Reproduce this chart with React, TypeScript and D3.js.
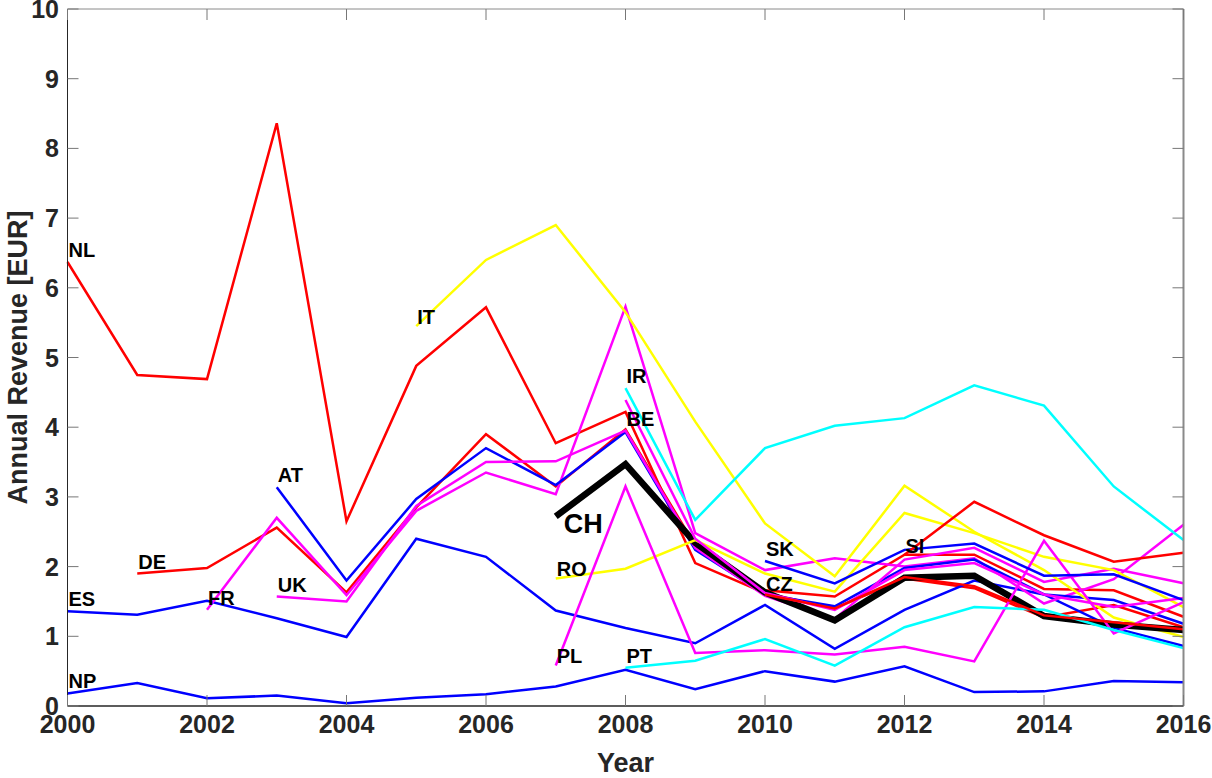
import React from "react";
import * as d3 from "d3";

// ---- data ----
const xTicks = [2000, 2002, 2004, 2006, 2008, 2010, 2012, 2014, 2016];
const yTicks = [0, 1, 2, 3, 4, 5, 6, 7, 8, 9, 10];

const countries = ["NL", "ES", "NP", "DE", "FR", "AT", "UK", "IT", "CH", "RO", "PL", "IR", "BE", "PT", "SK", "CZ", "SI"];
const startYears = [2000, 2000, 2000, 2001, 2002, 2003, 2003, 2005, 2007, 2007, 2007, 2008, 2008, 2008, 2010, 2010, 2012];
const colors = ["#ff0000", "#0000ff", "#0000ff", "#ff0000", "#ff00ff", "#0000ff", "#ff00ff", "#ffff00", "#000000", "#ffff00", "#ff00ff", "#00ffff", "#ff00ff", "#00ffff", "#0000ff", "#ff0000", "#ff0000"];

const NL = [6.37, 4.75, 4.69, 8.36, 2.65, 4.88, 5.72, 3.77, 4.22, 2.05, 1.62, 1.4, 1.83, 1.69, 1.27, 1.45, 1.13];
const ES = [1.36, 1.31, 1.51, 1.26, 0.99, 2.4, 2.14, 1.37, 1.12, 0.9, 1.45, 0.82, 1.38, 1.8, 1.6, 1.12, 0.86];
const NP = [0.18, 0.33, 0.11, 0.15, 0.04, 0.12, 0.17, 0.28, 0.52, 0.24, 0.5, 0.35, 0.57, 0.2, 0.21, 0.36, 0.34];
const DE = [1.9, 1.98, 2.56, 1.63, 2.85, 3.9, 3.15, 3.97, 2.3, 1.66, 1.57, 2.17, 2.17, 1.68, 1.66, 1.28];
const FR = [1.38, 2.7, 1.59, 2.8, 3.35, 3.04, 5.73, 2.48, 1.95, 2.12, 2.0, 2.12, 1.47, 1.82, 2.6];
const AT = [3.14, 1.8, 2.97, 3.7, 3.17, 3.93, 2.24, 1.6, 1.43, 1.98, 2.1, 1.6, 1.52, 1.18];
const UK = [1.57, 1.5, 2.87, 3.5, 3.51, 3.95, 2.27, 1.58, 1.25, 2.1, 2.27, 1.78, 1.97, 1.76];
const IT = [5.45, 6.4, 6.9, 5.65, 4.08, 2.62, 1.86, 3.16, 2.5, 1.95, 1.27, 0.99];
const CH = [2.72, 3.47, 2.34, 1.63, 1.23, 1.84, 1.87, 1.29, 1.17, 1.09];
const RO = [1.83, 1.97, 2.38, 1.9, 1.64, 2.77, 2.48, 2.14, 1.95, 1.42];
const PL = [0.58, 3.15, 0.76, 0.8, 0.74, 0.85, 0.64, 2.37, 1.04, 1.49];
const IR = [4.56, 2.67, 3.7, 4.02, 4.13, 4.6, 4.31, 3.15, 2.38];
const BE = [4.39, 2.4, 1.62, 1.38, 1.95, 2.05, 1.6, 1.42, 1.55];
const PT = [0.55, 0.65, 0.96, 0.58, 1.13, 1.42, 1.38, 1.09, 0.83];
const SK = [2.08, 1.76, 2.24, 2.33, 1.87, 1.89, 1.52];
const CZ = [1.6, 1.4, 1.85, 1.72, 1.3, 1.2, 1.1];
const SI = [2.17, 2.93, 2.45, 2.07, 2.2];

const seriesValues = [NL, ES, NP, DE, FR, AT, UK, IT, CH, RO, PL, IR, BE, PT, SK, CZ, SI];

// label offsets (style)
const labelDy: Record<string, number> = { BE: 26, CH: 17, IT: -2, RO: -2, PL: -3, SI: -2, CZ: -3 };
const labelDx: Record<string, number> = { CH: 7 };

const W = 1212;
const H = 778;
const left = 67.5;
const right = 1183.5;
const top = 9;
const bottom = 706;
const FONT = "'Liberation Sans', Arial, Helvetica, sans-serif";
const AXC = "#262626";

export default function App() {
  const x = d3.scaleLinear().domain([2000, 2016]).range([left, right]);
  const y = d3.scaleLinear().domain([0, 10]).range([bottom, top]);
  const line = d3
    .line<[number, number]>()
    .x((d) => x(d[0]))
    .y((d) => y(d[1]));

  const series = countries.map((c, i) => ({
    name: c,
    color: colors[i],
    pts: seriesValues[i].map((v, j) => [startYears[i] + j, v] as [number, number]),
  }));

  return (
    <div style={{ position: "absolute", left: 0, top: 0 }}>
      <svg width={W} height={H} style={{ display: "block", background: "#fff" }}>
        <rect x={0} y={0} width={W} height={H} fill="#fff" />
        {/* lines */}
        {series.map((s) => (
          <path
            key={s.name}
            d={line(s.pts) || ""}
            fill="none"
            stroke={s.color}
            strokeWidth={s.name === "CH" ? 6.5 : 2.5}
            strokeLinejoin="miter"
          />
        ))}
        {/* labels */}
        {series.map((s) => (
          <text
            key={"l" + s.name}
            x={x(s.pts[0][0]) + 1 + (labelDx[s.name] || 0)}
            y={y(s.pts[0][1]) + (labelDy[s.name] ?? -5)}
            fontFamily={FONT}
            fontWeight="bold"
            fontSize={s.name === "CH" ? 27 : 20}
            fill="#000"
          >
            {s.name}
          </text>
        ))}
        {/* axes box */}
        <line x1={left} x2={right} y1={top} y2={top} stroke="#8a8a8a" strokeWidth={1} />
        <line x1={right} x2={right} y1={top} y2={bottom} stroke="#8a8a8a" strokeWidth={2} />
        <line x1={left} x2={left} y1={top} y2={bottom} stroke={AXC} strokeWidth={1} />
        <line x1={left} x2={right} y1={bottom} y2={bottom} stroke={AXC} strokeWidth={1.5} />
        {/* x ticks */}
        {xTicks.map((t) => (
          <g key={"xt" + t}>
            <line x1={x(t)} x2={x(t)} y1={bottom} y2={bottom - 11} stroke="#777" />
            <line x1={x(t)} x2={x(t)} y1={top} y2={top + 11} stroke="#777" />
            <text
              x={x(t)}
              y={733}
              textAnchor="middle"
              fontFamily={FONT}
              fontWeight="bold"
              fontSize={25}
              fill={AXC}
            >
              {t}
            </text>
          </g>
        ))}
        {/* y ticks */}
        {yTicks.map((t) => (
          <g key={"yt" + t}>
            <line x1={left} x2={left + 11} y1={y(t)} y2={y(t)} stroke="#777" />
            <line x1={right} x2={right - 11} y1={y(t)} y2={y(t)} stroke="#777" />
            <text
              x={59}
              y={y(t)}
              dy="0.36em"
              textAnchor="end"
              fontFamily={FONT}
              fontWeight="bold"
              fontSize={25}
              fill={AXC}
            >
              {t}
            </text>
          </g>
        ))}
        <text
          x={(left + right) / 2}
          y={772}
          textAnchor="middle"
          fontFamily={FONT}
          fontWeight="bold"
          fontSize={27}
          fill={AXC}
        >
          Year
        </text>
        <text
          transform={`translate(27, ${(top + bottom) / 2}) rotate(-90)`}
          textAnchor="middle"
          fontFamily={FONT}
          fontWeight="bold"
          fontSize={27}
          fill={AXC}
        >
          Annual Revenue [EUR]
        </text>
      </svg>
    </div>
  );
}
